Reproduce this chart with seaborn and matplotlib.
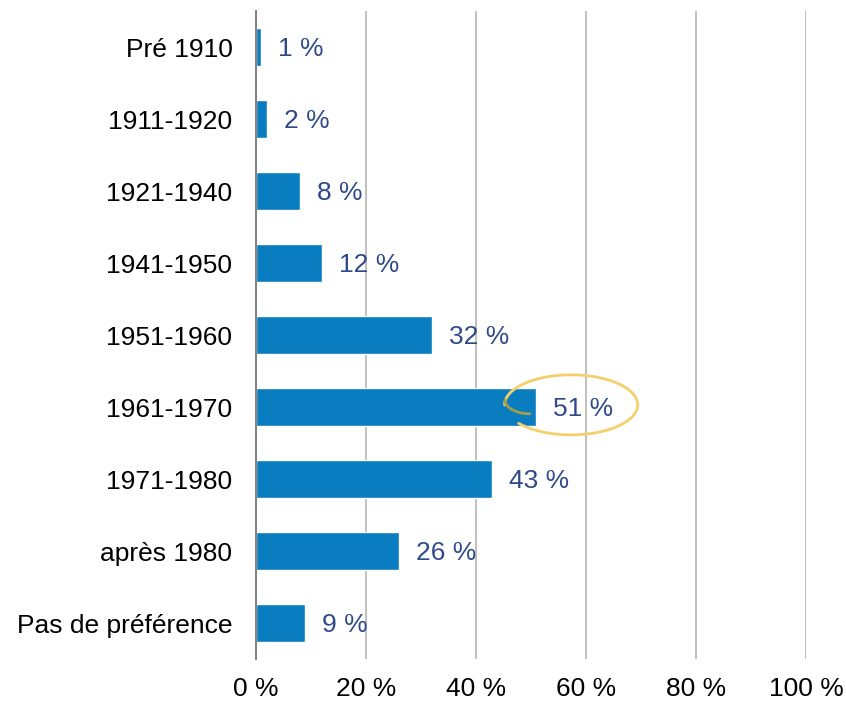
import matplotlib
matplotlib.use("Agg")
import matplotlib.pyplot as plt
import numpy as np
import seaborn as sns
import pandas as pd

categories = ["Pré 1910", "1911-1920", "1921-1940", "1941-1950", "1951-1960",
              "1961-1970", "1971-1980", "après 1980", "Pas de préférence"]
values = [1, 2, 8, 12, 32, 51, 43, 26, 9]
xticks = [0, 20, 40, 60, 80, 100]
xtick_labels = ["0 %", "20 %", "40 %", "60 %", "80 %", "100 %"]

bar_color = "#0A7DC1"
label_color = "#2F4A8A"
highlight_color = "#F5CF6B"

sns.set_theme(style="white")
plt.rcParams["font.family"] = ["Liberation Sans", "DejaVu Sans"]

df = pd.DataFrame({"period": categories, "share": values})

fig = plt.figure(figsize=(8.46, 7.01), dpi=100)
ax = fig.add_axes([0.3026, 0.0599, 0.6501, 0.9244])

sns.barplot(data=df, y="period", x="share", order=categories, color=bar_color,
            saturation=1, width=0.53, ax=ax, zorder=3)

ax.set_xlim(0, 100)
ax.set_ylim(len(categories) - 0.5, -0.5)
ax.set_xticks(xticks)
ax.set_xticklabels(xtick_labels)
ax.set_xlabel("")
ax.set_ylabel("")
ax.grid(axis="x", color="#BFBFBF", linewidth=1.4, zorder=0)
ax.grid(axis="y", visible=False)
for side in ["top", "right", "bottom"]:
    ax.spines[side].set_visible(False)
ax.spines["left"].set_color("#808080")
ax.spines["left"].set_linewidth(1.4)
ax.spines["left"].set_zorder(4)
ax.tick_params(axis="x", length=0, pad=13, labelsize=19, labelcolor="#000000")
ax.tick_params(axis="y", length=0, pad=17, labelsize=19, labelcolor="#000000")

for i, v in enumerate(values):
    ax.annotate(f"{v} %", xy=(v, i), xytext=(12, -1.5), textcoords="offset points",
                va="center", ha="left", fontsize=19, color=label_color, zorder=5)

# Hand-drawn style loop around the peak period: an open ellipse whose
# left end curls back inside toward the bar end
peak = values.index(max(values))
t = np.radians(np.linspace(218, 540, 200))
ax.plot(57.3 + 12.1 * np.cos(t), peak - 0.03 - 0.417 * np.sin(t),
        color=highlight_color, linewidth=2, zorder=6, solid_capstyle="round")
tc = np.radians(np.linspace(180, 270, 60))
ax.plot(49.8 + 4.55 * np.cos(tc), peak - 0.10 - 0.194 * np.sin(tc),
        color="#A09E4C", linewidth=2, zorder=6, solid_capstyle="round")

fig.savefig("out.png", dpi=100)
